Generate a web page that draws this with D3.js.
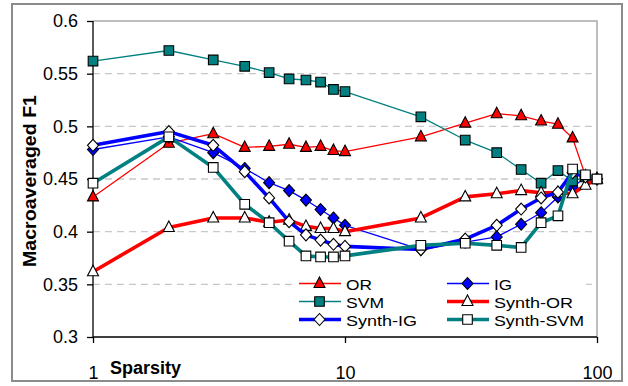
<!DOCTYPE html>
<html><head><meta charset="utf-8">
<script src="https://cdn.jsdelivr.net/npm/d3@7"></script>
<style>body{margin:0;background:#fff}svg{display:block;font-family:Arial,"Liberation Sans",sans-serif}</style>
</head><body><svg id="c" width="628" height="386"></svg>
<script>
const sparsity = [1,2,3,4,5,6,7,8,9,10,20,30,40,50,60,70,80,90,100];
const OR       = [0.433,0.484,0.493,0.480,0.481,0.483,0.480,0.481,0.477,0.476,0.490,0.503,0.512,0.510,0.505,0.502,0.489,0.453,0.450];
const IG       = [0.478,0.490,0.475,0.460,0.4465,0.439,0.430,0.421,0.413,0.406,0.383,0.390,0.395,0.407,0.418,0.433,0.442,0.452,0.450];
const SVM      = [0.562,0.572,0.563,0.557,0.551,0.545,0.544,0.542,0.535,0.533,0.509,0.487,0.475,0.459,0.446,0.458,0.448,0.452,0.450];
const synthOR  = [0.362,0.404,0.413,0.413,0.409,0.411,0.405,0.403,0.403,0.400,0.413,0.433,0.436,0.439,0.437,0.437,0.436,0.444,0.450];
const synthIG  = [0.482,0.495,0.482,0.457,0.432,0.4095,0.397,0.392,0.388,0.386,0.383,0.393,0.406,0.4215,0.432,0.4375,0.456,0.452,0.450];
const synthSVM = [0.446,0.490,0.461,0.426,0.4085,0.391,0.377,0.376,0.376,0.377,0.387,0.389,0.387,0.385,0.4085,0.415,0.4595,0.454,0.450];
const yTicks = [0.3,0.35,0.4,0.45,0.5,0.55,0.6];
const xTicks = [1,10,100];
const seriesNames = ["OR","IG","SVM","Synth-OR","Synth-IG","Synth-SVM"];

const series = [
  {name:"OR", v:OR, color:"#FF0000", w:1.3, shape:"tri", fill:"#FF0000"},
  {name:"IG", v:IG, color:"#0000FF", w:1.3, shape:"dia", fill:"#0000FF"},
  {name:"SVM", v:SVM, color:"#008080", w:1.3, shape:"sq", fill:"#008080"},
  {name:"Synth-OR", v:synthOR, color:"#FF0000", w:3.6, shape:"tri", fill:"#FFFFFF"},
  {name:"Synth-IG", v:synthIG, color:"#0000FF", w:3.6, shape:"dia", fill:"#FFFFFF"},
  {name:"Synth-SVM", v:synthSVM, color:"#008080", w:3.6, shape:"sq", fill:"#FFFFFF"}
];

const svg = d3.select("#c");
const L=93,R=597,T=21,B=337;
const x = d3.scaleLog().domain([1,100]).range([L,R]);
const y = d3.scaleLinear().domain([0.3,0.6]).range([B,T]);

// outer border
svg.append("rect").attr("x",12).attr("y",4).attr("width",610).attr("height",377)
  .attr("fill","#fff").attr("stroke","#8c8c8c").attr("stroke-width",2);

// gridlines
svg.append("g").selectAll("line").data(yTicks.filter(t=>t>0.3&&t<0.6)).join("line")
  .attr("x1",L).attr("x2",R).attr("y1",d=>y(d)).attr("y2",d=>y(d))
  .attr("stroke","#c8c8c8").attr("stroke-width",1.3).attr("stroke-dasharray","7,5");

// frame top/right
svg.append("path").attr("d",`M${L},${T}H${R}V${B}`).attr("fill","none").attr("stroke","#a8a8a8").attr("stroke-width",1.5);

// axes
const yAxis = d3.axisLeft(y).tickValues(yTicks).tickSize(6).tickPadding(9).tickFormat(d=>String(+d.toFixed(2)));
const gy = svg.append("g").attr("transform",`translate(${L},0)`).call(yAxis);
const xAxis = d3.axisBottom(x).tickValues(xTicks).tickSize(6).tickPadding(23).tickFormat(d3.format("d"));
const gx = svg.append("g").attr("transform",`translate(0,${B})`).call(xAxis);
[gy,gx].forEach(g=>{
  g.select(".domain").attr("stroke","#000").attr("stroke-width",1.3);
  g.selectAll(".tick line").attr("stroke","#000").attr("stroke-width",1.3);
  g.selectAll(".tick text").attr("font-size",18).attr("fill","#000").attr("font-family","Arial, 'Liberation Sans', sans-serif");
});
gy.select(".domain").attr("d",`M0,${T}V${B}`);
gx.select(".domain").attr("d",`M${L},0H${R}`);

// axis titles
svg.append("text").attr("transform","translate(36,181) rotate(-90)").attr("text-anchor","middle")
  .attr("font-size",18).attr("font-weight","bold").attr("textLength",172).attr("lengthAdjust","spacingAndGlyphs")
  .text("Macroaveraged F1");
svg.append("text").attr("x",110).attr("y",374).attr("font-size",18).attr("font-weight","bold")
  .text("Sparsity");

function marker(g, shape, cx, cy, fill){
  let p;
  if(shape==="tri") p=`M${cx},${cy-6.5}L${cx+5.5},${cy+4}L${cx-5.5},${cy+4}Z`;
  else if(shape==="dia") p=`M${cx},${cy-6}L${cx+5.5},${cy}L${cx},${cy+6}L${cx-5.5},${cy}Z`;
  else p=`M${cx-4.8},${cy-4.8}h9.6v9.6h-9.6Z`;
  g.append("path").attr("d",p).attr("fill",fill).attr("stroke","#000").attr("stroke-width",1.1);
}

const line = d3.line().x(d=>x(d[0])).y(d=>y(d[1]));
series.forEach(s=>{
  const g = svg.append("g");
  const pts = sparsity.map((xv,i)=>[xv,s.v[i]]);
  g.append("path").attr("d",line(pts)).attr("fill","none").attr("stroke",s.color).attr("stroke-width",s.w).attr("stroke-linejoin","round");
  pts.forEach(p=>marker(g,s.shape,x(p[0]),y(p[1]),s.fill));
});

// legend
svg.append("rect").attr("x",292).attr("y",272).attr("width",294).attr("height",58).attr("fill","#fff");
const legPos = [[299,283.5],[447,283.5],[299,301.5],[447,301.5],[299,319.5],[447,319.5]];
const legTextLen = [26,18,38,79,71,90];
series.forEach((s,i)=>{
  const [lx,ly]=legPos[i];
  const g=svg.append("g");
  g.append("line").attr("x1",lx).attr("x2",lx+42).attr("y1",ly).attr("y2",ly).attr("stroke",s.color).attr("stroke-width",s.w);
  marker(g,s.shape,lx+20.5,ly,s.fill);
  g.append("text").attr("x",lx+47).attr("y",ly+6).attr("font-size",15.5)
    .attr("textLength",legTextLen[i]).attr("lengthAdjust","spacingAndGlyphs").text(seriesNames[i]);
});
</script></body></html>
